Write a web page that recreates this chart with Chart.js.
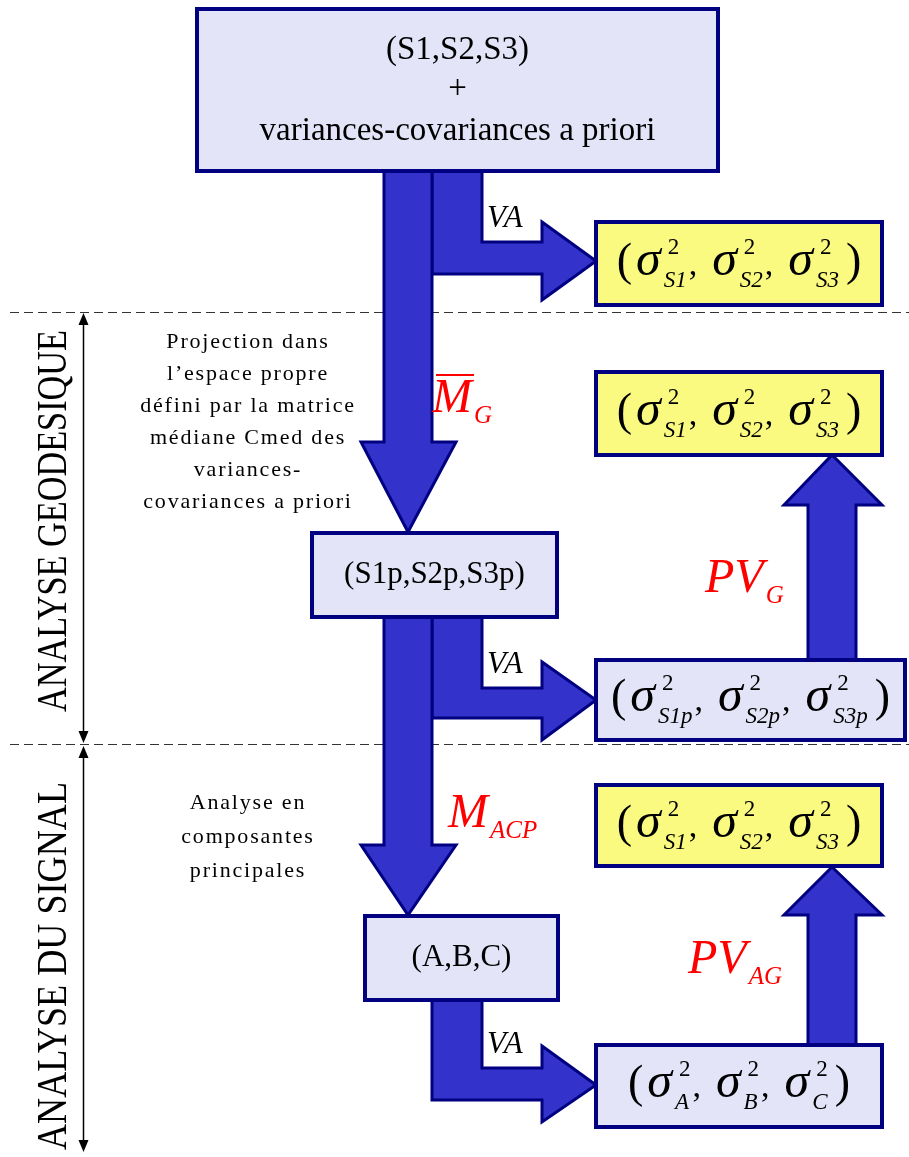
<!DOCTYPE html>
<html>
<head>
<meta charset="utf-8">
<script src="https://cdn.jsdelivr.net/npm/chart.js"></script>
<style>
  html, body { margin: 0; padding: 0; background: #fff; }
  #wrap { width: 909px; height: 1157px; }
</style>
</head>
<body>
<div id="wrap"><canvas id="flow" width="909" height="1157"></canvas></div>
<script>
// --- content of the diagram ---
const stageNames = ['(S1,S2,S3)', '(S1p,S2p,S3p)', '(A,B,C)'];
const aprioriLines = ['+', 'variances-covariances a priori'];
const varianceSubs = [
    ['S1', 'S2', 'S3'],
    ['S1', 'S2', 'S3'],
    ['S1p', 'S2p', 'S3p'],
    ['S1', 'S2', 'S3'],
    ['A', 'B', 'C']
];
const operatorMain = ['M', 'PV', 'M', 'PV'];
const operatorSub = ['G', 'G', 'ACP', 'AG'];
const operatorBar = [true, false, false, false];
const branchLabel = 'VA';
const sectionNames = ['ANALYSE GEODESIQUE', 'ANALYSE DU SIGNAL'];
const stepNotes = [
    ['Projection dans', 'l\u2019espace propre', 'défini par la matrice', 'médiane Cmed des', 'variances-', 'covariances a priori'],
    ['Analyse en', 'composantes', 'principales']
];

// --- layout (in scale units) ---
const layout = {
    stageBoxes: [[197, 9, 718, 171], [312, 533, 557, 617], [365, 916, 558, 1000]],
    varBoxes: [[596, 222, 882, 305], [596, 372, 882, 455], [596, 660, 905, 740], [596, 785, 882, 866], [596, 1045, 882, 1127]],
    varFill: ['#fafa80', '#fafa80', '#e4e4f8', '#fafa80', '#e4e4f8'],
    downArrows: [
        { x0: 384, x1: 432, y0: 171, yHead: 442, tip: 532, hx0: 361, hx1: 456 },
        { x0: 384, x1: 432, y0: 617, yHead: 845, tip: 915, hx0: 361, hx1: 456 }
    ],
    branches: [
        { xl: 432, xr: 482, y0: 171, hTop: 242, hBot: 274, headX: 542, headTop: 222, headBot: 300, tipX: 596, tipY: 261 },
        { xl: 432, xr: 482, y0: 617, hTop: 688, hBot: 718, headX: 542, headTop: 662, headBot: 740, tipX: 596, tipY: 700 },
        { xl: 432, xr: 482, y0: 1000, hTop: 1068, hBot: 1100, headX: 542, headTop: 1046, headBot: 1122, tipX: 596, tipY: 1085 }
    ],
    upArrows: [
        { x0: 808, x1: 856, y0: 660, yHead: 505, tip: 455, hx0: 784, hx1: 882 },
        { x0: 808, x1: 856, y0: 1045, yHead: 915, tip: 867, hx0: 784, hx1: 882 }
    ],
    operators: [[432, 412], [705, 592], [448, 827], [688, 973]],
    notes: [[248, 342, 32], [248, 803, 34]],
    sections: [[52, 521, 382], [52, 966, 368]],
    separators: [312.5, 744.5],
    bracket: [[313, 743], [746, 1152]],
    bracketX: 83.5
};

const SERIF = '"Liberation Serif", "DejaVu Serif", serif';
const NAVY = '#000080';
const BLUE = '#3333cc';

function poly(ctx, pts) {
    ctx.beginPath();
    ctx.moveTo(pts[0][0], pts[0][1]);
    for (let i = 1; i < pts.length; i++) ctx.lineTo(pts[i][0], pts[i][1]);
    ctx.closePath();
    ctx.fill();
    ctx.stroke();
}

function drawTuple(ctx, cx, cy, subs) {
    const fParen = '46px ' + SERIF, fSig = 'italic 50px ' + SERIF;
    const fSup = '23px ' + SERIF, fSub = 'italic 23px ' + SERIF, fComma = '34px ' + SERIF;
    const segs = [{ t: '(', f: fParen, gap: 4 }];
    subs.forEach((s, i) => {
        segs.push({ t: '\u03C3', f: fSig, gap: 3 });
        segs.push({ stack: true, sup: '2', sub: s, gap: i < subs.length - 1 ? 2 : 7 });
        if (i < subs.length - 1) segs.push({ t: ',', f: fComma, gap: 15 });
    });
    segs.push({ t: ')', f: fParen, gap: 0 });
    let total = 0;
    segs.forEach(sg => {
        if (sg.stack) {
            ctx.font = fSup; const a = ctx.measureText(sg.sup).width;
            ctx.font = fSub; const b = ctx.measureText(sg.sub).width;
            sg.w = Math.max(a + 4, b);
        } else {
            ctx.font = sg.f; sg.w = ctx.measureText(sg.t).width;
        }
        total += sg.w + sg.gap;
    });
    let x = cx - total / 2;
    const base = cy + 11;
    ctx.fillStyle = '#000';
    ctx.textAlign = 'left';
    ctx.textBaseline = 'alphabetic';
    segs.forEach(sg => {
        if (sg.stack) {
            ctx.font = fSup; ctx.fillText(sg.sup, x + 4, base - 21);
            ctx.font = fSub; ctx.fillText(sg.sub, x, base + 12);
        } else {
            ctx.font = sg.f; ctx.fillText(sg.t, x, base);
        }
        x += sg.w + sg.gap;
    });
}

const diagram = {
    id: 'diagram',
    afterDatasetsDraw(chart) {
        const ctx = chart.ctx;
        const X = v => chart.scales.x.getPixelForValue(v);
        const Y = v => chart.scales.y.getPixelForValue(v);
        ctx.save();
        ctx.lineJoin = 'miter';

        // arrows
        ctx.fillStyle = BLUE;
        ctx.strokeStyle = NAVY;
        ctx.lineWidth = 3;
        layout.branches.forEach(b => {
            poly(ctx, [[X(b.xl), Y(b.y0)], [X(b.xr), Y(b.y0)], [X(b.xr), Y(b.hTop)], [X(b.headX), Y(b.hTop)],
                [X(b.headX), Y(b.headTop)], [X(b.tipX), Y(b.tipY)], [X(b.headX), Y(b.headBot)],
                [X(b.headX), Y(b.hBot)], [X(b.xl), Y(b.hBot)]]);
        });
        layout.downArrows.concat(layout.upArrows).forEach(a => {
            const mid = (a.x0 + a.x1) / 2;
            poly(ctx, [[X(a.x0), Y(a.y0)], [X(a.x1), Y(a.y0)], [X(a.x1), Y(a.yHead)], [X(a.hx1), Y(a.yHead)],
                [X(mid), Y(a.tip)], [X(a.hx0), Y(a.yHead)], [X(a.x0), Y(a.yHead)]]);
        });

        // boxes
        ctx.lineWidth = 4;
        layout.stageBoxes.forEach(b => {
            ctx.fillStyle = '#e4e4f8';
            ctx.fillRect(X(b[0]), Y(b[1]), X(b[2]) - X(b[0]), Y(b[3]) - Y(b[1]));
            ctx.strokeRect(X(b[0]), Y(b[1]), X(b[2]) - X(b[0]), Y(b[3]) - Y(b[1]));
        });
        layout.varBoxes.forEach((b, i) => {
            ctx.fillStyle = layout.varFill[i];
            ctx.fillRect(X(b[0]), Y(b[1]), X(b[2]) - X(b[0]), Y(b[3]) - Y(b[1]));
            ctx.strokeRect(X(b[0]), Y(b[1]), X(b[2]) - X(b[0]), Y(b[3]) - Y(b[1]));
            drawTuple(ctx, X((b[0] + b[2]) / 2), Y((b[1] + b[3]) / 2), varianceSubs[i]);
        });

        // stage texts
        ctx.fillStyle = '#000';
        ctx.textAlign = 'center';
        ctx.textBaseline = 'middle';
        ctx.font = '33px ' + SERIF;
        const top = layout.stageBoxes[0];
        const tcx = X((top[0] + top[2]) / 2);
        ctx.fillText(stageNames[0], tcx, Y(50));
        ctx.fillText(aprioriLines[0], tcx, Y(89));
        ctx.fillText(aprioriLines[1], tcx, Y(131));
        ctx.font = '31px ' + SERIF;
        for (let i = 1; i < stageNames.length; i++) {
            const b = layout.stageBoxes[i];
            ctx.fillText(stageNames[i], X((b[0] + b[2]) / 2), Y((b[1] + b[3]) / 2));
        }

        // VA labels
        ctx.textAlign = 'left';
        ctx.textBaseline = 'alphabetic';
        ctx.font = 'italic 31px ' + SERIF;
        layout.branches.forEach(b => ctx.fillText(branchLabel, X(487), Y(b.hTop - 15)));

        // red operators
        ctx.fillStyle = '#ff0000';
        ctx.strokeStyle = '#ff0000';
        ctx.lineWidth = 2;
        operatorMain.forEach((m, i) => {
            const [ox, oy] = layout.operators[i];
            ctx.font = 'italic 48px ' + SERIF;
            const w = ctx.measureText(m).width;
            ctx.fillText(m, X(ox), Y(oy));
            if (operatorBar[i]) {
                ctx.beginPath();
                ctx.moveTo(X(ox + 4), Y(oy - 37));
                ctx.lineTo(X(ox + w + 2), Y(oy - 37));
                ctx.stroke();
            }
            ctx.font = 'italic 25px ' + SERIF;
            ctx.fillText(operatorSub[i], X(ox + w + 2), Y(oy + 11));
        });

        // notes
        ctx.fillStyle = '#000';
        ctx.textAlign = 'center';
        ctx.textBaseline = 'middle';
        ctx.font = '22px ' + SERIF;
        ctx.letterSpacing = '1.8px';
        stepNotes.forEach((lines, i) => {
            const [nx, ny, pitch] = layout.notes[i];
            lines.forEach((l, j) => ctx.fillText(l, X(nx), Y(ny + j * pitch)));
        });
        ctx.letterSpacing = '0px';

        // section labels (rotated)
        sectionNames.forEach((s, i) => {
            const [sx, sy, len] = layout.sections[i];
            ctx.save();
            ctx.translate(X(sx), Y(sy));
            ctx.rotate(-Math.PI / 2);
            ctx.font = '42px ' + SERIF;
            const w = ctx.measureText(s).width;
            ctx.scale(len / w, 1);
            ctx.textAlign = 'center';
            ctx.textBaseline = 'alphabetic';
            ctx.fillText(s, 0, 14);
            ctx.restore();
        });

        // bracket arrowheads
        ctx.fillStyle = '#000';
        const bx = X(layout.bracketX);
        layout.bracket.forEach(([a, b]) => {
            const ya = Y(a), yb = Y(b);
            ctx.beginPath();
            ctx.moveTo(bx, ya); ctx.lineTo(bx - 5, ya + 12); ctx.lineTo(bx + 5, ya + 12); ctx.closePath(); ctx.fill();
            ctx.beginPath();
            ctx.moveTo(bx, yb); ctx.lineTo(bx - 5, yb - 12); ctx.lineTo(bx + 5, yb - 12); ctx.closePath(); ctx.fill();
        });
        ctx.restore();
    }
};

const lineSets = [];
layout.separators.forEach(y => lineSets.push({
    data: [{ x: 10, y: y }, { x: 909, y: y }],
    borderColor: '#333', borderWidth: 1.2, borderDash: [9, 5]
}));
layout.bracket.forEach(([a, b]) => lineSets.push({
    data: [{ x: layout.bracketX, y: a + 6 }, { x: layout.bracketX, y: b - 6 }],
    borderColor: '#000', borderWidth: 1.5
}));

const ctx = document.getElementById('flow').getContext('2d');
const flowChart = new Chart(ctx, {
    type: 'scatter',
    data: {
        datasets: lineSets.map(d => Object.assign({ showLine: true, pointRadius: 0, fill: false, tension: 0 }, d))
    },
    options: {
        responsive: false,
        animation: false,
        layout: { padding: 0 },
        plugins: { legend: { display: false }, tooltip: { enabled: false } },
        scales: {
            x: { type: 'linear', min: 0, max: 909, display: false },
            y: { type: 'linear', min: 0, max: 1157, reverse: true, display: false }
        }
    },
    plugins: [diagram]
});
</script>
</body>
</html>
